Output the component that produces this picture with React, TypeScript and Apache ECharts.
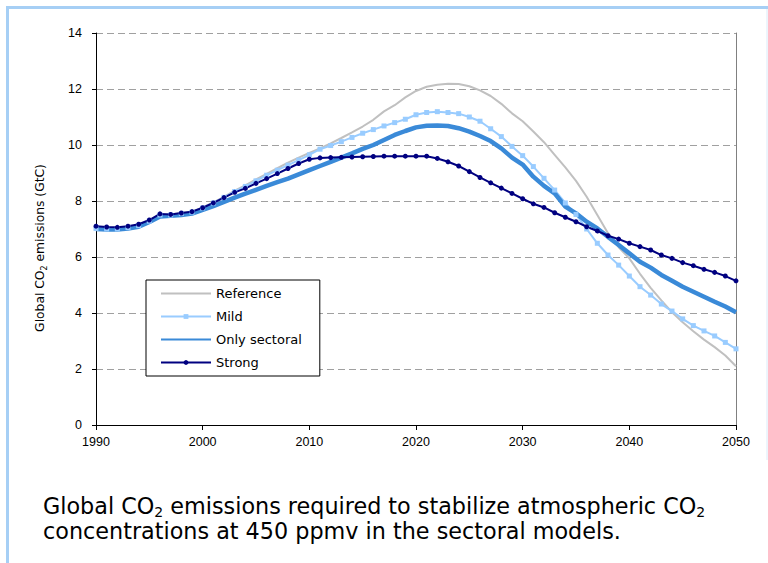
import React, { useEffect, useRef } from "react";
import * as echarts from "echarts";

const years: number[] = [];
for (let y = 1990; y <= 2050; y++) years.push(y);

const referenceValues = [
  7.05, 7.02, 7.02, 7.07, 7.14, 7.3, 7.52, 7.52, 7.57, 7.62,
  7.77, 7.95, 8.15, 8.37, 8.56, 8.77, 8.97, 9.17, 9.37, 9.55,
  9.72, 9.88, 10.06, 10.25, 10.45, 10.66, 10.9, 11.2, 11.42, 11.7,
  11.93, 12.08, 12.15, 12.19, 12.18, 12.1, 11.95, 11.75, 11.47, 11.13,
  10.85, 10.48, 10.1, 9.65, 9.2, 8.72, 8.15, 7.5, 6.85, 6.35,
  5.95, 5.4, 4.9, 4.45, 4.03, 3.67, 3.35, 3.05, 2.78, 2.48,
  2.1,
];

const mildValues = [
  7.02, 7.0, 7.0, 7.05, 7.12, 7.28, 7.5, 7.5, 7.55, 7.6,
  7.75, 7.93, 8.13, 8.34, 8.52, 8.72, 8.92, 9.1, 9.28, 9.46,
  9.65, 9.85, 9.98, 10.12, 10.27, 10.42, 10.55, 10.68, 10.8, 10.92,
  11.08, 11.16, 11.19, 11.16, 11.12, 11.0, 10.85, 10.58, 10.3, 9.95,
  9.62, 9.23, 8.81, 8.39, 7.93, 7.52, 7.0, 6.49, 6.07, 5.71,
  5.32, 4.94, 4.64, 4.32, 4.07, 3.79, 3.55, 3.36, 3.18, 2.95,
  2.72,
];

const sectoralValues = [
  7.0, 6.98, 6.98, 7.02, 7.08, 7.25, 7.45, 7.47, 7.5, 7.55,
  7.68, 7.82, 7.97, 8.12, 8.26, 8.4, 8.54, 8.67, 8.8, 8.95,
  9.1, 9.25, 9.4, 9.55, 9.7, 9.86, 10.0, 10.18, 10.36, 10.5,
  10.63, 10.69, 10.7, 10.68, 10.6, 10.48, 10.32, 10.14, 9.88, 9.55,
  9.3, 8.87, 8.54, 8.27, 7.8, 7.56, 7.26, 7.02, 6.72, 6.43,
  6.13, 5.83, 5.62, 5.36, 5.15, 4.94, 4.76, 4.58, 4.4, 4.23,
  4.03,
];

const strongValues = [
  7.1, 7.07, 7.06, 7.1, 7.17, 7.32, 7.54, 7.52, 7.57, 7.62,
  7.76, 7.93, 8.12, 8.31, 8.45, 8.63, 8.8, 8.98, 9.16, 9.34,
  9.49, 9.54, 9.55, 9.56, 9.57, 9.58, 9.59, 9.6, 9.6, 9.6,
  9.6, 9.6, 9.52, 9.4, 9.25, 9.05, 8.84, 8.65, 8.46, 8.27,
  8.08, 7.9, 7.77, 7.58, 7.42, 7.26, 7.08, 6.93, 6.76, 6.64,
  6.49, 6.37, 6.25, 6.07, 5.95, 5.8, 5.69, 5.56, 5.45, 5.32,
  5.15,
];

const seriesNames = ["Reference", "Mild", "Only sectoral", "Strong"];
const xMin = 1990;
const xMax = 2050;
const xStep = 10;
const yMin = 0;
const yMax = 14;
const yStep = 2;

const FONT = "DejaVu Sans";
const TICK_FONT = "Liberation Sans";

function pairs(vals: number[]) {
  return years.map((y, i) => [y, vals[i]]);
}

export default function App() {
  const ref = useRef<HTMLDivElement>(null);
  useEffect(() => {
    if (!ref.current) return;
    const chart = echarts.init(ref.current, null, { renderer: "svg" });
    const option: any = {
      animation: false,
      backgroundColor: "#ffffff",
      textStyle: { fontFamily: FONT },
      grid: { left: 96, right: 32, top: 33, bottom: 138, containLabel: false },
      xAxis: {
        type: "value",
        min: xMin,
        max: xMax,
        interval: xStep,
        axisLine: { show: true, lineStyle: { color: "#000", width: 1 } },
        axisTick: { show: true, length: 5, inside: false, lineStyle: { color: "#000" } },
        axisLabel: { color: "#000", fontSize: 12.5, margin: 10, fontFamily: TICK_FONT, formatter: (v: number) => String(v) },
        splitLine: { show: false },
      },
      yAxis: [
        {
          type: "value",
          min: yMin,
          max: yMax,
          interval: yStep,
          name: "{a|Global CO}{s|2}{a| emissions (GtC)}",
          nameLocation: "middle",
          nameGap: 48,
          nameTextStyle: {
            padding: [0, 38, 0, 0],
            rich: {
              a: { fontSize: 12.3, lineHeight: 16, fontFamily: FONT, color: "#000" },
              s: { fontSize: 8, lineHeight: 9, verticalAlign: "bottom", fontFamily: FONT, color: "#000" },
            },
          },
          axisLine: { show: true, lineStyle: { color: "#000", width: 1 } },
          axisTick: { show: true, length: 4, inside: false, lineStyle: { color: "#000" } },
          axisLabel: { color: "#000", fontSize: 12.5, margin: 14, fontFamily: TICK_FONT },
          splitLine: { show: true, lineStyle: { color: "#a0a0a0", type: [7, 4], width: 1 } },
        },
        {
          type: "value",
          min: yMin,
          max: yMax,
          interval: yStep,
          position: "right",
          axisLine: { show: true, lineStyle: { color: "#808080", width: 1 } },
          axisTick: { show: false },
          axisLabel: { show: false },
          splitLine: { show: false },
        },
      ],
      legend: {
        orient: "vertical",
        left: 146,
        top: 280,
        itemWidth: 50,
        itemHeight: 6,
        itemGap: 8,
        padding: [6, 18, 6, 14],
        borderColor: "#000",
        borderWidth: 1,
        backgroundColor: "#fff",
        textStyle: { fontSize: 13, lineHeight: 15, fontFamily: FONT, color: "#000" },
        data: seriesNames,
      },
      series: [
        {
          name: seriesNames[0],
          type: "line",
          data: pairs(referenceValues),
          symbol: "none",
          lineStyle: { color: "#c0c0c0", width: 2 },
          itemStyle: { color: "rgba(192,192,192,0)" },
        },
        {
          name: seriesNames[1],
          type: "line",
          data: pairs(mildValues),
          symbol: "rect",
          symbolSize: 5,
          showAllSymbol: true,
          lineStyle: { color: "#99ccff", width: 2 },
          itemStyle: { color: "#99ccff" },
        },
        {
          name: seriesNames[2],
          type: "line",
          data: pairs(sectoralValues),
          symbol: "none",
          lineStyle: { color: "#3a8ad8", width: 4.5 },
          itemStyle: { color: "rgba(58,138,216,0)" },
        },
        {
          name: seriesNames[3],
          type: "line",
          data: pairs(strongValues),
          symbol: "circle",
          symbolSize: 5,
          showAllSymbol: true,
          lineStyle: { color: "#000080", width: 2 },
          itemStyle: { color: "#000080" },
        },
      ],
      graphic: [
        { type: "line", shape: { x1: 8, y1: 7.5, x2: 768, y2: 7.5 }, style: { stroke: "#a6cff5", lineWidth: 3 } },
        { type: "line", shape: { x1: 7.5, y1: 6, x2: 7.5, y2: 563 }, style: { stroke: "#a6cff5", lineWidth: 3 } },
        { type: "line", shape: { x1: 767, y1: 9, x2: 767, y2: 460 }, style: { stroke: "#dbeaf8", lineWidth: 1 } },
        {
          type: "text",
          left: 43,
          top: 495,
          style: {
            text:
              "{a|Global CO}{s|2}{a| emissions required to stabilize atmospheric CO}{s|2}\n{a|concentrations at 450 ppmv in the sectoral models.}",
            rich: {
              a: { fontSize: 22.3, lineHeight: 25, fontFamily: FONT, fill: "#000" },
              s: { fontSize: 14, lineHeight: 14, verticalAlign: "bottom", fontFamily: FONT, fill: "#000" },
            },
          },
        },
      ],
    };
    chart.setOption(option);
    return () => chart.dispose();
  }, []);
  return (
    <div
      ref={ref}
      style={{ position: "fixed", left: 0, top: 0, width: 768, height: 563, background: "#fff" }}
    />
  );
}
